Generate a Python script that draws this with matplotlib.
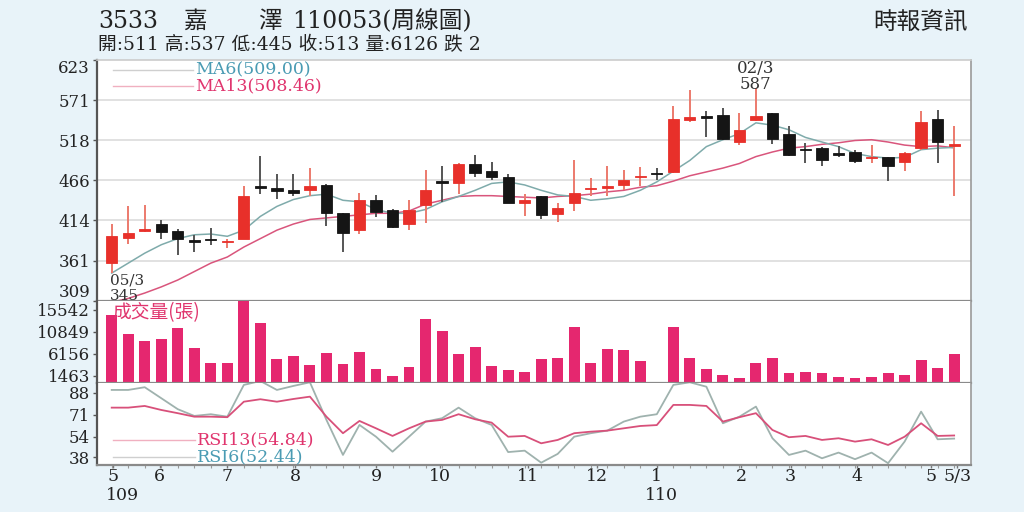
import matplotlib
matplotlib.use("Agg")
import matplotlib.pyplot as plt
import numpy as np

plt.rcParams['font.family'] = ['DejaVu Serif', 'Noto Sans CJK TC']

# ---------------- data ----------------
opens = [358, 391, 400, 409, 400, 388, 389, 385, 390, 458, 456, 453, 453, 460, 423, 401, 440, 427,
         409, 434, 465, 463, 487, 478, 470, 436, 445, 422, 436, 455, 456, 460, 471, 476, 477, 545,
         550, 551, 516, 545, 554, 526, 507, 508, 502, 503, 495, 496, 490, 508, 546, 511]
highs = [409, 432, 434, 414, 402, 395, 404, 390, 459, 498, 474, 474, 482, 461, 424, 449, 447, 428,
         440, 479, 485, 488, 499, 490, 474, 448, 446, 436, 493, 469, 485, 480, 484, 482, 563, 584,
         556, 560, 554, 587, 554, 537, 515, 509, 511, 506, 512, 497, 503, 556, 558, 537]
lows = [345, 383, 399, 390, 368, 373, 382, 378, 389, 448, 442, 446, 446, 406, 372, 396, 418, 404,
        401, 411, 438, 448, 471, 467, 436, 419, 416, 412, 426, 446, 446, 454, 458, 467, 476, 542,
        522, 519, 512, 544, 513, 498, 488, 485, 497, 488, 488, 465, 478, 506, 489, 445]
closes = [394, 397, 403, 398, 390, 386, 388, 387, 446, 456, 452, 449, 459, 424, 397, 440, 425, 405,
          427, 453, 462, 487, 476, 471, 437, 440, 421, 430, 450, 456, 458, 467, 472, 474, 546, 549,
          547, 520, 532, 550, 520, 499, 505, 493, 499, 491, 497, 485, 502, 542, 516, 513]
ma6 = [345, 358, 371, 382, 390, 395, 396, 393, 401, 419, 432, 441, 446, 448, 440, 438, 428, 423,
       423, 428, 438, 445, 453, 462, 464, 460, 453, 447, 445, 440, 442, 445, 453, 464, 478, 492,
       510, 519, 527, 541, 538, 532, 522, 516, 510, 501, 497, 495, 496, 506, 508, 509]
ma13 = [307, 312, 319, 327, 336, 347, 358, 366, 379, 390, 401, 409, 415, 417, 419, 421, 423, 423,
        426, 435, 440, 445, 446, 446, 445, 444, 443, 445, 446, 448, 451, 453, 457, 459, 465, 472,
        477, 482, 488, 497, 503, 508, 510, 513, 515, 518, 519, 516, 512, 510, 511, 508.46]
volume = [14475, 10348, 8980, 9279, 11759, 7483, 4148, 4148, 18500, 12828, 5067, 5709, 3720, 6286,
          3998, 6628, 2865, 1432, 3292, 13555, 11054, 6136, 7568, 3570, 2715, 2223, 5067, 5217,
          11973, 4148, 7269, 7055, 4639, 0, 11844, 5217, 2865, 1646, 941, 4276, 5217, 2010, 2288,
          2138, 1155, 1069, 1155, 2010, 1646, 4917, 3143, 6126]
rsi6 = [90.1, 90.1, 92.2, 83.7, 75.2, 70.0, 71.3, 69.4, 94.0, 97.0, 90.1, 93.2, 96.0, 66.9, 39.8,
        63.0, 53.9, 42.3, 53.9, 65.6, 68.2, 76.4, 68.2, 63.0, 42.0, 43.1, 33.8, 40.6, 53.9, 56.6,
        58.6, 65.6, 69.4, 71.3, 94.0, 96.0, 92.6, 64.3, 69.4, 77.2, 52.7, 39.8, 43.1, 37.2, 41.6,
        36.5, 41.6, 33.4, 50.1, 73.3, 51.9, 52.44]
rsi13 = [76.4, 76.4, 77.7, 74.6, 72.1, 69.4, 69.4, 69.0, 81.0, 82.9, 81.0, 83.1, 84.9, 69.4, 56.6,
         66.1, 60.4, 54.5, 60.4, 65.6, 66.9, 71.3, 67.4, 64.8, 53.9, 54.5, 48.8, 51.4, 56.6, 57.8,
         58.6, 60.4, 62.2, 62.9, 78.5, 78.5, 77.7, 65.6, 69.0, 72.1, 59.1, 53.5, 54.5, 51.4, 52.7,
         50.1, 51.9, 47.5, 53.9, 64.3, 54.5, 54.84]

price_ticks = [309, 361.33, 413.67, 466, 518.33, 570.67, 623]
price_labels = ['309', '361', '414', '466', '518', '571', '623']
vol_ticks = [1463, 6156, 10849, 15542]
rsi_ticks = [38, 54, 71, 88]
month_pos = [0.08, 2.9, 7.0, 11.1, 16.0, 19.9, 25.2, 29.4, 33.0, 38.1, 41.1, 45.1, 49.6, 51.2]
month_labels = ['5', '6', '7', '8', '9', '10', '11', '12', '1', '2', '3', '4', '5', '5/3']
year_pos = [-0.35, 32.3]
year_labels = ['109', '110']

# ---------------- style ----------------
BG = '#e8f3f9'
RED = '#e8302a'
RED_WICK = '#ec7a6c'
BLACK = '#151515'
BLACK_WICK = '#555555'
VOLC = '#e5276f'
MA6C = '#7fabab'
MA13C = '#d9557c'
TEAL_TXT = '#4a9bb3'
PINK_TXT = '#e0356e'

fig = plt.figure(figsize=(10.24, 5.12), dpi=100, facecolor=BG)
L, W = 97 / 1024, 874 / 1024
def fy(px):
    return 1 - px / 512
ax1 = fig.add_axes([L, fy(300.7), W, fy(60) - fy(300.7)])
ax2 = fig.add_axes([L, fy(382.7), W, fy(300.7) - fy(382.7)])
ax3 = fig.add_axes([L, fy(465), W, fy(382.7) - fy(465)])

x = np.arange(len(opens))
xlim = (-0.89, 52.02)

for ax in (ax1, ax2, ax3):
    ax.set_facecolor('white')
    ax.set_xlim(*xlim)
    ax.set_xticks([])
    for s in ax.spines.values():
        s.set_color('#9a9a9a')
        s.set_linewidth(1.2)
    ax.spines['left'].set_color('#555555')
    ax.spines['left'].set_linewidth(1.6)
    ax.tick_params(axis='y', labelsize=12, length=3, width=1, color='#555555', pad=2,
                   labelcolor='#222222')
ax1.spines['top'].set_color('#cccccc')
for ax in (ax1, ax2, ax3):
    ax.spines['bottom'].set_color('#8a8a8a')
    ax.spines['bottom'].set_linewidth(1.6)
ax2.spines['top'].set_visible(False)
ax3.spines['top'].set_visible(False)

# ---------------- price panel ----------------
ax1.set_ylim(309, 623)
ax1.set_yticks(price_ticks)
ax1.set_yticklabels(price_labels)
tl = ax1.get_yticklabels()
tl[0].set_verticalalignment('bottom')
tl[-1].set_verticalalignment('top')
for t in price_ticks[1:-1]:
    ax1.axhline(t, color='#dcdcdc', lw=1.2, zorder=0)

ax1.plot(x, ma13, color=MA13C, lw=1.1, zorder=2)
ax1.plot(x, ma6, color=MA6C, lw=1.1, zorder=2)

for i in range(len(opens)):
    o, h, l, c = opens[i], highs[i], lows[i], closes[i]
    up = c >= o
    body_c = RED if up else BLACK
    wick_c = RED_WICK if up else BLACK_WICK
    ax1.vlines(x[i], l, h, color=wick_c, lw=1.4, zorder=3)
    ax1.bar(x[i], max(abs(c - o), 1.2), bottom=min(o, c), width=0.68, color=body_c,
            edgecolor=body_c, lw=0.6, zorder=4)

# legend labels
ax1.plot([0.018, 0.11], [0.958, 0.958], transform=ax1.transAxes, color='#cfcfcf', lw=1)
ax1.plot([0.018, 0.11], [0.892, 0.892], transform=ax1.transAxes, color='#f0b0c0', lw=1)
ax1.text(0.112, 0.958, 'MA6(509.00)', transform=ax1.transAxes, color=TEAL_TXT,
         fontsize=12.5, va='center', ha='left')
ax1.text(0.112, 0.892, 'MA13(508.46)', transform=ax1.transAxes, color=PINK_TXT,
         fontsize=12.5, va='center', ha='left')

# high / low annotations
ax1.text(39, 611.5, '02/3', ha='center', va='center', fontsize=12, color='#333333')
ax1.text(39, 590.5, '587', ha='center', va='center', fontsize=12, color='#333333')
ax1.text(-0.1, 335, '05/3', ha='left', va='center', fontsize=11, color='#333333')
ax1.text(-0.1, 315, '345', ha='left', va='center', fontsize=11, color='#333333')

# ---------------- volume panel ----------------
ax2.set_ylim(0, 17530)
ax2.bar(x, volume, width=0.66, color=VOLC, zorder=2)
ax2.set_yticks(vol_ticks)
ax2.set_yticklabels([str(v) for v in vol_ticks])
ax2.text(0.018, 0.85, '成交量(張)', transform=ax2.transAxes, color=PINK_TXT,
         fontsize=13.5, va='center', ha='left', family=['Noto Sans CJK TC'], zorder=5)

# ---------------- RSI panel ----------------
ax3.set_ylim(32, 95.7)
ax3.plot(x, rsi6, color='#9fb2ae', lw=1.3, zorder=2)
ax3.plot(x, rsi13, color='#d8507a', lw=1.3, zorder=3)
ax3.set_yticks(rsi_ticks)
ax3.set_yticklabels([str(v) for v in rsi_ticks])
ax3.plot([0.018, 0.112], [0.304, 0.304], transform=ax3.transAxes, color='#f0b0c0', lw=1)
ax3.plot([0.018, 0.112], [0.097, 0.097], transform=ax3.transAxes, color='#cfcfcf', lw=1)
ax3.text(0.114, 0.304, 'RSI13(54.84)', transform=ax3.transAxes, color=PINK_TXT,
         fontsize=12.5, va='center', ha='left')
ax3.text(0.114, 0.097, 'RSI6(52.44)', transform=ax3.transAxes, color=TEAL_TXT,
         fontsize=12.5, va='center', ha='left')

ax3.set_xticks(month_pos)
ax3.set_xticklabels(month_labels)
ax3.set_xticks(x, minor=True)
ax3.tick_params(axis='x', which='major', length=2, width=1, color='#777777', labelsize=12.5,
                pad=0.5, labelcolor='#222222')
ax3.tick_params(axis='x', which='minor', length=2, width=0.8, color='#999999')
for xp, yl in zip(year_pos, year_labels):
    ax3.text(xp, -0.37, yl, transform=ax3.get_xaxis_transform(), ha='left', va='center',
             fontsize=12.5, color='#222222')

# ---------------- header ----------------
fig.text(98 / 1024, fy(21), '3533', fontsize=17, va='center', ha='left', color='#222222')
fig.text(183 / 1024, fy(21), '嘉', fontsize=17, va='center', ha='left', color='#222222')
fig.text(258 / 1024, fy(21), '澤', fontsize=17, va='center', ha='left', color='#222222')
fig.text(292 / 1024, fy(21), '110053(周線圖)', fontsize=17, va='center', ha='left',
         color='#222222')
fig.text(98 / 1024, fy(45), '開:511 高:537 低:445 收:513 量:6126 跌 2', fontsize=13.5,
         va='center', ha='left', color='#222222')
fig.text(968 / 1024, fy(22), '時報資訊', fontsize=17, va='center', ha='right',
         color='#222222', family=['Noto Sans CJK TC'])

fig.savefig('out.png', dpi=100, facecolor=BG)
